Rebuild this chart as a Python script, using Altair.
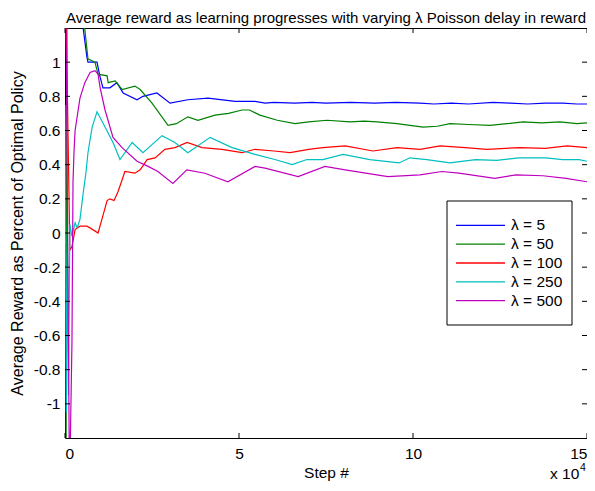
import altair as alt
import pandas as pd

FONT = "Liberation Sans"
TITLE = "Average reward as learning progresses with varying \u03bb Poisson delay in reward"

SERIES = ["5", "50", "100", "250", "500"]
LABELS = ["\u03bb = 5", "\u03bb = 50", "\u03bb = 100", "\u03bb = 250", "\u03bb = 500"]
COLORS = ["#0000ff", "#008000", "#ff0000", "#00bfbf", "#bf00bf"]

XTICKS = [0, 5, 10, 15]
YTICKS = [-1, -0.8, -0.6, -0.4, -0.2, 0, 0.2, 0.4, 0.6, 0.8, 1]

# step values in units of 10^4
BLUE_X = [0, 0.02, 0.52, 0.63, 0.66, 0.92, 1.0, 1.09, 1.29, 1.49, 1.67, 2.07, 2.24, 2.64, 3.02, 3.53, 4.11, 4.89,
          5.46, 5.75, 6.0, 6.6, 7.1, 7.5, 8.2, 8.9, 9.5, 10.2, 10.6, 11.1, 11.6, 12.3, 12.8, 13.3, 13.8, 14.3, 14.7, 15.0]
BLUE_Y = [1.6, 1.6, 1.2, 1.03, 1.0, 1.0, 0.92, 0.85, 0.85, 0.88, 0.82, 0.78, 0.80, 0.82, 0.76, 0.78, 0.79, 0.77,
          0.77, 0.76, 0.765, 0.76, 0.765, 0.76, 0.765, 0.76, 0.765, 0.76, 0.755, 0.76, 0.755, 0.765, 0.76, 0.755, 0.76, 0.76, 0.755, 0.755]

GREEN_X = [0, 0.03, 0.06, 0.57, 0.66, 0.86, 0.95, 1.21, 1.24, 1.44, 1.64, 2.01, 2.16, 2.5, 2.96, 3.2, 3.53, 3.82,
           4.31, 4.7, 5.09, 5.3, 5.6, 6.1, 6.61, 7.0, 7.53, 8.19, 8.6, 8.97, 9.54, 10.29, 10.7, 11.06, 11.6, 12.21,
           12.7, 13.16, 13.7, 14.22, 14.71, 15.0]
GREEN_Y = [-1.5, -1.5, 1.6, 1.19, 1.02, 1.0, 0.93, 0.92, 0.88, 0.89, 0.84, 0.86, 0.84, 0.76, 0.63, 0.64, 0.68, 0.66,
           0.69, 0.70, 0.72, 0.72, 0.69, 0.66, 0.64, 0.65, 0.66, 0.65, 0.655, 0.65, 0.64, 0.62, 0.625, 0.64, 0.635, 0.63,
           0.64, 0.65, 0.645, 0.65, 0.64, 0.645]

RED_X = [0, 0.03, 0.14, 0.2, 0.29, 0.43, 0.63, 0.72, 0.95, 1.06, 1.21, 1.29, 1.41, 1.52, 1.64, 1.72, 2.01, 2.16,
         2.36, 2.59, 2.87, 3.16, 3.51, 3.94, 4.51, 5.09, 5.46, 6.0, 6.47, 7.0, 7.41, 8.05, 8.85, 9.54, 10.2, 10.78,
         11.5, 12.13, 13.07, 13.8, 14.43, 15.0]
RED_Y = [1.6, 1.3, -0.1, -0.08, 0.02, 0.04, 0.04, 0.03, 0.0, 0.08, 0.19, 0.2, 0.19, 0.24, 0.31, 0.36, 0.35, 0.37,
         0.43, 0.44, 0.49, 0.5, 0.53, 0.5, 0.49, 0.47, 0.49, 0.48, 0.47, 0.49, 0.5, 0.51, 0.48, 0.5, 0.49, 0.51,
         0.50, 0.49, 0.5, 0.495, 0.51, 0.50]

CYAN_X = [0, 0.04, 0.07, 0.1, 0.14, 0.2, 0.29, 0.35, 0.43, 0.52, 0.6, 0.66, 0.78, 0.92, 1.15, 1.38, 1.58, 1.93,
          2.24, 2.79, 3.16, 3.53, 4.17, 4.8, 5.46, 6.03, 6.53, 6.95, 7.41, 7.99, 8.76, 9.6, 9.91, 10.4, 11.06, 11.8,
          12.4, 13.04, 13.82, 14.3, 14.77, 15.0]
CYAN_Y = [0.75, -1.05, 0.0, -0.95, 0.05, -0.02, 0.06, 0.03, 0.08, 0.23, 0.35, 0.47, 0.62, 0.71, 0.62, 0.53, 0.43, 0.53,
          0.47, 0.57, 0.53, 0.47, 0.56, 0.5, 0.46, 0.43, 0.40, 0.43, 0.43, 0.46, 0.43, 0.41, 0.44, 0.43, 0.41, 0.43,
          0.425, 0.44, 0.44, 0.43, 0.43, 0.42]

MAG_X = [0, 0.04, 0.13, 0.2, 0.23, 0.26, 0.29, 0.43, 0.57, 0.72, 0.86, 0.95, 1.01, 1.15, 1.38, 1.64, 2.07, 2.39,
         2.67, 3.1, 3.5, 4.02, 4.68, 5.46, 5.75, 6.7, 7.47, 8.05, 9.28, 10.2, 10.83, 11.32, 12.35, 12.96, 13.73, 14.4, 15.0]
MAG_Y = [1.6, 1.0, -1.5, -0.64, 0.3, 0.48, 0.6, 0.79, 0.88, 0.94, 0.95, 0.93, 0.85, 0.72, 0.56, 0.5, 0.42, 0.39,
         0.36, 0.29, 0.37, 0.35, 0.30, 0.39, 0.38, 0.33, 0.39, 0.37, 0.33, 0.34, 0.36, 0.35, 0.32, 0.34, 0.335, 0.32, 0.30]

W, H = 522, 410
TICK = 5
FS = 15.5

rows = []
for name, xs, ys in zip(SERIES, [BLUE_X, GREEN_X, RED_X, CYAN_X, MAG_X], [BLUE_Y, GREEN_Y, RED_Y, CYAN_Y, MAG_Y]):
    for i, (xv, yv) in enumerate(zip(xs, ys)):
        rows.append({"series": name, "step": xv, "reward": yv, "order": i})
df = pd.DataFrame(rows)

color_scale = alt.Scale(domain=SERIES, range=COLORS)

x_enc = alt.X("step:Q", scale=alt.Scale(domain=[0, 15], nice=False, zero=False),
              axis=alt.Axis(values=XTICKS, title="Step #", labelFlush=True, labelFlushOffset=0,
                            labelPadding=8, titlePadding=4, labelExpr="'' + datum.value"))
y_enc = alt.Y("reward:Q", scale=alt.Scale(domain=[-1.2, 1.2], nice=False, zero=False),
              axis=alt.Axis(values=YTICKS, title="Average Reward as Percent of Optimal Policy",
                            labelPadding=5, titlePadding=8, titleFontSize=16, labelFlush=False,
                            labelExpr="'' + datum.value"))

lines = alt.Chart(df).mark_line(clip=True, strokeWidth=1.2).encode(
    x=x_enc, y=y_enc,
    color=alt.Color("series:N", scale=color_scale, legend=None),
    order="order:Q",
)

xt = pd.DataFrame({"step": XTICKS})
yt = pd.DataFrame({"reward": YTICKS})
tick_style = dict(color="black", strokeWidth=1)
tb = alt.Chart(xt).mark_rule(**tick_style).encode(x="step:Q", y=alt.value(H), y2=alt.value(H - TICK))
tt = alt.Chart(xt).mark_rule(**tick_style).encode(x="step:Q", y=alt.value(0), y2=alt.value(TICK))
tl = alt.Chart(yt).mark_rule(**tick_style).encode(y="reward:Q", x=alt.value(0), x2=alt.value(TICK))
tr = alt.Chart(yt).mark_rule(**tick_style).encode(y="reward:Q", x=alt.value(W), x2=alt.value(W - TICK))

one = pd.DataFrame({"t": ["x 10"], "s": ["4"]})
exp1 = alt.Chart(one).mark_text(align="left", baseline="alphabetic", font=FONT, fontSize=FS, color="black").encode(
    x=alt.value(485), y=alt.value(451), text="t:N")
exp2 = alt.Chart(one).mark_text(align="left", baseline="alphabetic", font=FONT, fontSize=10.5, color="black").encode(
    x=alt.value(515), y=alt.value(443), text="s:N")

main = alt.layer(lines, tb, tt, tl, tr, exp1, exp2)

# legend
leg = pd.DataFrame({"series": SERIES, "label": LABELS})
LX0, LX1, LY0, LY1 = 382, 507, 173, 297
ly = alt.Y("series:N", sort=SERIES, scale=alt.Scale(domain=SERIES, range=[188, 282], padding=0), axis=None)
box = alt.Chart(one).mark_rect(fill="white", stroke="black", strokeWidth=1).encode(
    x=alt.value(LX0), x2=alt.value(LX1), y=alt.value(LY0), y2=alt.value(LY1))
lsym = alt.Chart(leg).mark_rule(strokeWidth=1.3).encode(
    x=alt.value(391), x2=alt.value(440), y=ly, color=alt.Color("series:N", scale=color_scale, legend=None))
ltxt = alt.Chart(leg).mark_text(align="left", baseline="middle", font=FONT, fontSize=FS, color="black").encode(
    x=alt.value(446), y=ly, text="label:N")
legend = alt.layer(box, lsym, ltxt)

chart = alt.layer(main, legend).resolve_scale(y="independent").properties(
    width=W, height=H,
    title=alt.TitleParams(TITLE, font=FONT, fontSize=15, fontWeight="normal", color="black", offset=2, anchor="middle"),
    autosize=alt.AutoSizeParams(type="none"),
    padding={"left": 57, "top": 20, "right": 0, "bottom": 45},
).configure_axis(
    labelFont=FONT, titleFont=FONT, labelFontSize=FS, titleFontSize=FS, titleFontWeight="normal",
    labelColor="black", titleColor="black", grid=False, ticks=False, domain=False,
).configure_view(stroke="black", strokeWidth=1)

chart.save("out.html", embed_options={"renderer": "svg", "actions": False})
